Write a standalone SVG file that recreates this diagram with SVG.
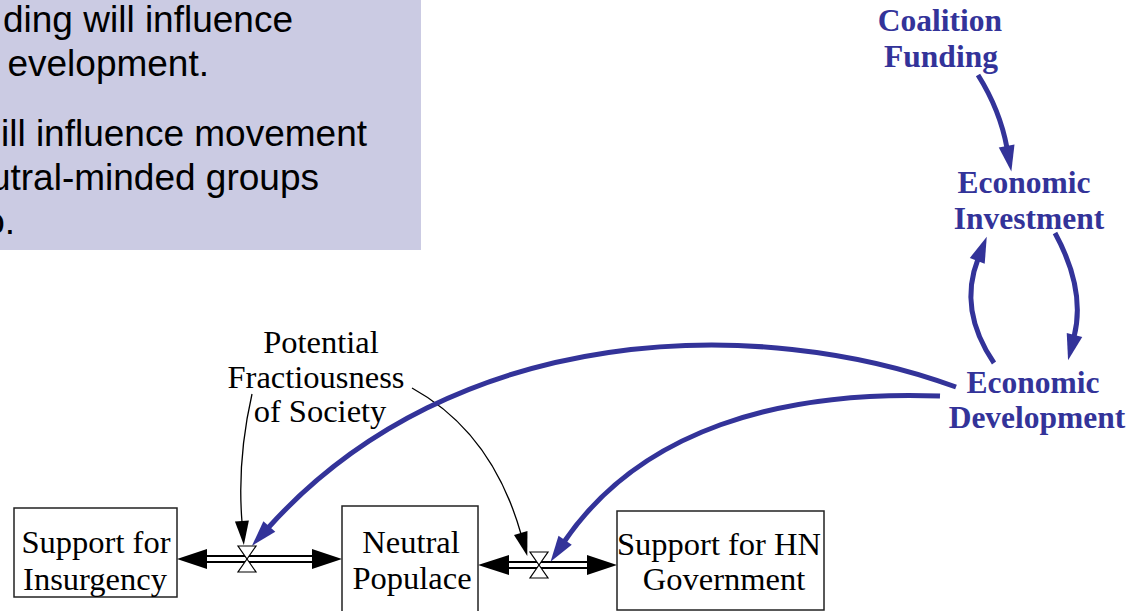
<svg xmlns="http://www.w3.org/2000/svg" width="1143" height="611" viewBox="0 0 1143 611">
<style>
.note{font-family:"Liberation Sans",Arial,sans-serif;font-size:37px;fill:#000}
.lbl{font-family:"Liberation Serif","Times New Roman",serif;font-size:32.5px;fill:#000;text-anchor:middle}
.blue{font-family:"Liberation Serif","Times New Roman",serif;font-size:31.5px;font-weight:bold;fill:#333399;text-anchor:middle}
.stock{fill:#fff;stroke:#222;stroke-width:1.5}
.bl{fill:none;stroke:#333399;stroke-width:5}
.th{fill:none;stroke:#000;stroke-width:1.3}
.pipeo{stroke:#000;stroke-width:8}
.pipei{stroke:#fff;stroke-width:4}
.valve{fill:#fff;stroke:#000;stroke-width:1.2}
</style>
<defs>
<marker id="ab" markerUnits="userSpaceOnUse" markerWidth="28" markerHeight="18" refX="2" refY="8" orient="auto" overflow="visible">
<path d="M0,0 L26,8 L0,16 z" fill="#333399"/>
</marker>
<marker id="ak" markerUnits="userSpaceOnUse" markerWidth="26" markerHeight="16" refX="1" refY="7" orient="auto" overflow="visible">
<path d="M0,0 L24,7 L0,14 z" fill="#000"/>
</marker>
</defs>
<rect width="1143" height="611" fill="#fff"/>

<g id="note">
<rect x="-2" y="-2" width="423" height="252" fill="#CBCBE3"/>
<text class="note" x="293" y="32" text-anchor="end">ding will influence</text>
<text class="note" x="209" y="76" text-anchor="end">evelopment.</text>
<text class="note" x="367" y="146" text-anchor="end">ill influence movement</text>
<text class="note" x="319" y="190" text-anchor="end">utral-minded groups</text>
<text class="note" x="15" y="234" text-anchor="end">o.</text>
</g>

<g id="connectors">
<!-- flow 1 pipe -->
<line class="pipeo" x1="200" y1="559" x2="320" y2="559"/>
<line class="pipei" x1="200" y1="559" x2="320" y2="559"/>
<path d="M177,559 L207,549 L207,569 z" fill="#000"/>
<path d="M342,559 L312,549 L312,569 z" fill="#000"/>
<!-- flow 2 pipe -->
<line class="pipeo" x1="500" y1="565" x2="595" y2="565"/>
<line class="pipei" x1="500" y1="565" x2="595" y2="565"/>
<path d="M478,565 L509,555 L509,575 z" fill="#000"/>
<path d="M617,565 L587,555 L587,575 z" fill="#000"/>
<!-- thin black influences -->
<path class="th" d="M252,394 Q237,460 242,522" marker-end="url(#ak)"/>
<path class="th" d="M412,388 Q492,432 521,534" marker-end="url(#ak)"/>
<!-- blue links -->
<path class="bl" d="M978,75 Q1000,110 1007,148" marker-end="url(#ab)"/>
<path class="bl" d="M994,363 Q958,310 978,259" marker-end="url(#ab)"/>
<path class="bl" d="M1055,233 Q1086,290 1074,337" marker-end="url(#ab)"/>
<path class="bl" d="M956,387 C760,315 455,320 268,528" marker-end="url(#ab)"/>
<path class="bl" d="M940,396 C780,390 640,430 564,542" marker-end="url(#ab)"/>
</g>

<g id="valve1">
<path class="valve" d="M238,546 L256,546 L247,559 z"/>
<path class="valve" d="M247,559 L256,572 L238,572 z"/>
</g>
<g id="valve2">
<path class="valve" d="M530,552 L548,552 L539,565 z"/>
<path class="valve" d="M539,565 L548,578 L530,578 z"/>
</g>

<g id="support_insurgency">
<rect class="stock" x="14" y="508" width="163" height="89"/>
<text class="lbl" x="96" y="553">Support for</text>
<text class="lbl" x="95" y="590">Insurgency</text>
</g>
<g id="neutral_populace">
<rect class="stock" x="342" y="506" width="136" height="112"/>
<text class="lbl" x="411" y="553">Neutral</text>
<text class="lbl" x="412" y="589">Populace</text>
</g>
<g id="support_hn">
<rect class="stock" x="617" y="511" width="207" height="99"/>
<text class="lbl" x="719" y="555">Support for HN</text>
<text class="lbl" x="724" y="590">Government</text>
</g>
<g id="potential_fractiousness">
<text class="lbl" x="321" y="353">Potential</text>
<text class="lbl" x="316" y="388">Fractiousness</text>
<text class="lbl" x="320" y="422">of Society</text>
</g>
<g id="coalition_funding">
<text class="blue" x="940" y="31">Coalition</text>
<text class="blue" x="941" y="67">Funding</text>
</g>
<g id="economic_investment">
<text class="blue" x="1024" y="193">Economic</text>
<text class="blue" x="1029" y="229">Investment</text>
</g>
<g id="economic_development">
<text class="blue" x="1033" y="393">Economic</text>
<text class="blue" x="1037" y="428">Development</text>
</g>
</svg>
